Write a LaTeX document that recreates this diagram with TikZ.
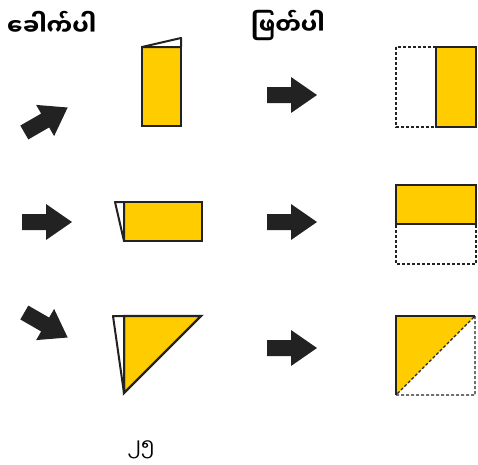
\documentclass[tikz,border=0pt]{standalone}
\usepackage{fontspec}
\newfontfamily\mmfont[Script=Myanmar]{Noto Sans Myanmar UI}
\definecolor{foldyellow}{HTML}{FFCC00}
\definecolor{inkblack}{HTML}{222222}

\begin{document}
\begin{tikzpicture}[x=1pt,y=-1pt,
    paper/.style={draw=inkblack,line width=2.4pt,fill=foldyellow},
    flap/.style={draw=inkblack,line width=2pt,fill=white,line join=round},
    cutline/.style={draw=inkblack,line width=1.1pt,dash pattern=on 3pt off 2pt},
    title/.style={font=\mmfont\bfseries\fontsize{23}{27}\selectfont,anchor=west,inner sep=0pt},
    blockarrow/.pic={\fill[inkblack] (-25,-8) -- (-1,-8) -- (-1,-18) -- (25,0) -- (-1,18) -- (-1,8) -- (-25,8) -- cycle;}]
  \useasboundingbox (0,0) rectangle (478,464);

  \node[title] (fold) at (7,23) {ခေါက်ပါ};
  \node[title] (cut) at (251,25) {ဖြတ်ပါ};
  \node[font=\mmfont\fontsize{20}{24}\selectfont] (page) at (141,450) {၂၅};

  % arrows
  \pic[rotate=30] at (46,120) {blockarrow};
  \pic at (47,222) {blockarrow};
  \pic[rotate=-30] at (46,325) {blockarrow};
  \pic at (292,95) {blockarrow};
  \pic at (292,222) {blockarrow};
  \pic at (292,348) {blockarrow};

  % folded paper
  \draw[paper] (142,47) rectangle (181,126);
  \draw[flap] (142,47) -- (181,38) -- (181,47) -- cycle;
  \draw[paper] (124,202) rectangle (202,241);
  \draw[flap] (124,202) -- (115,202) -- (124,241) -- cycle;
  \draw[paper] (124,316) -- (201,316) -- (124,393) -- cycle;
  \draw[flap] (124,316) -- (113,316) -- (124,393) -- cycle;

  % cut paper
  \draw[cutline] (396,47) rectangle (476,127);
  \draw[paper] (436,47) rectangle (476,127);
  \draw[cutline] (396,185) rectangle (476,264);
  \draw[paper] (396,185) rectangle (476,224);
  \fill[foldyellow] (396,316) -- (475,316) -- (396,395) -- cycle;
  \draw[cutline] (475,316) -- (475,395) -- (396,395) -- cycle;
  \draw[paper,fill=none] (475,316) -- (396,316) -- (396,395);
\end{tikzpicture}
\end{document}
